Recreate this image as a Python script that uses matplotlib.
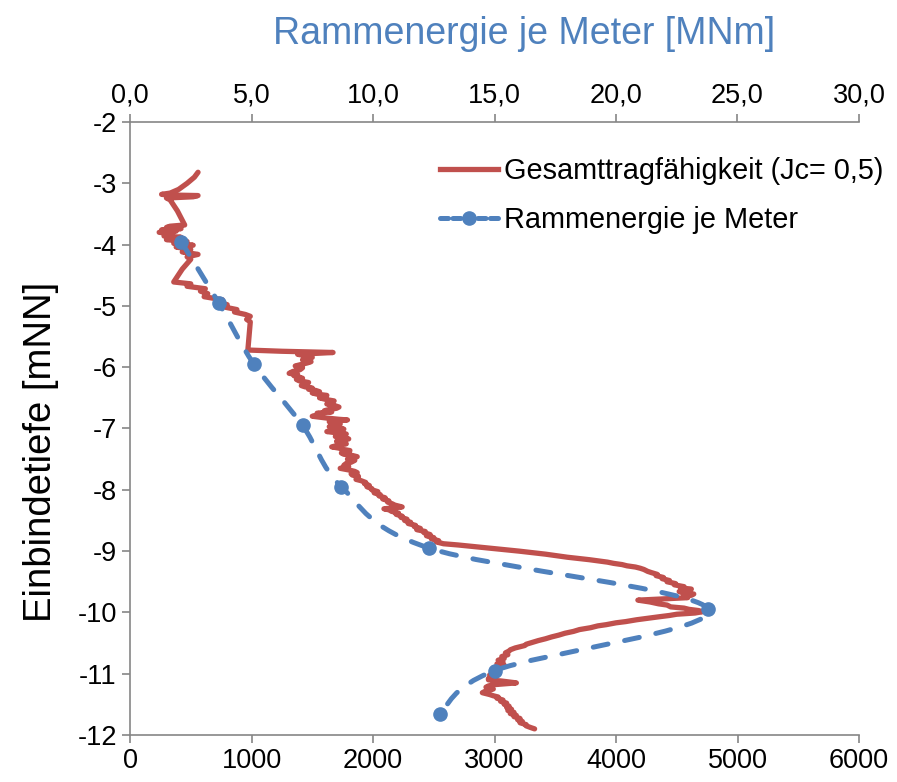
import numpy as np
import matplotlib
matplotlib.use('Agg')
import matplotlib.pyplot as plt
from matplotlib.path import Path
from matplotlib.patches import PathPatch
from matplotlib.lines import Line2D
from matplotlib.ticker import FuncFormatter, MultipleLocator

plt.rcParams['font.family'] = ['Liberation Sans', 'DejaVu Sans']
plt.rcParams['axes.unicode_minus'] = False

RED = '#C0504D'
BLUE = '#4F81BD'
GREY = '#868686'

# Gesamttragfaehigkeit (bottom axis, kN) over depth (mNN)
cap_depth = [
    -2.82, -2.90, -3.00, -3.10, -3.16, -3.18, -3.19, -3.20, -3.22, -3.24, -3.27,
    -3.45, -3.68, -3.70, -3.72, -3.74, -3.76, -3.78, -3.80, -3.82, -3.84, -3.86,
    -3.88, -3.90, -3.92, -3.95, -3.98, -4.01, -4.04, -4.08, -4.12, -4.16, -4.20,
    -4.24, -4.40, -4.61, -4.64, -4.68, -4.72, -4.76, -4.80, -4.85, -4.90, -4.94,
    -4.98, -5.02, -5.06, -5.10, -5.14, -5.17, -5.22, -5.26, -5.72, -5.74, -5.76,
    -5.79, -5.82, -5.84, -5.88, -5.91, -5.93, -5.96, -5.98, -6.01, -6.04, -6.07,
    -6.10, -6.12, -6.14, -6.18, -6.20, -6.22, -6.25, -6.27, -6.30, -6.32, -6.34,
    -6.36, -6.38, -6.40, -6.42, -6.44, -6.46, -6.48, -6.50, -6.53, -6.55, -6.58,
    -6.60, -6.63, -6.65, -6.67, -6.69, -6.71, -6.73, -6.75, -6.78, -6.80, -6.82,
    -6.83, -6.85, -6.86, -6.88, -6.89, -6.91, -6.93, -6.95, -6.97, -6.99, -7.01,
    -7.03, -7.05, -7.07, -7.09, -7.11, -7.13, -7.15, -7.17, -7.19, -7.21, -7.23,
    -7.25, -7.27, -7.30, -7.32, -7.34, -7.36, -7.38, -7.40, -7.42, -7.44, -7.46,
    -7.48, -7.50, -7.52, -7.55, -7.57, -7.60, -7.62, -7.65, -7.68, -7.70, -7.72,
    -7.74, -7.76, -7.78, -7.80, -7.83, -7.85, -7.88, -7.90, -7.93, -7.95, -7.98,
    -8.00, -8.03, -8.05, -8.08, -8.10, -8.13, -8.15, -8.18, -8.20, -8.23, -8.25,
    -8.28, -8.31, -8.33, -8.35, -8.38, -8.40, -8.43, -8.45, -8.48, -8.50, -8.53,
    -8.55, -8.58, -8.60, -8.63, -8.65, -8.68, -8.70, -8.73, -8.75, -8.78, -8.80,
    -8.83, -8.85, -8.88, -8.90, -8.92, -8.96, -9.00, -9.05, -9.10, -9.14, -9.18,
    -9.20, -9.22, -9.24, -9.26, -9.28, -9.30, -9.33, -9.35, -9.38, -9.40, -9.43,
    -9.45, -9.48, -9.50, -9.53, -9.55, -9.58, -9.60, -9.62, -9.64, -9.66, -9.68,
    -9.70, -9.72, -9.74, -9.76, -9.80, -9.83, -9.86, -9.88, -9.91, -9.93, -9.95,
    -9.97, -9.99, -10.01, -10.03, -10.05, -10.07, -10.10, -10.12, -10.15, -10.17, -10.20,
    -10.22, -10.25, -10.28, -10.31, -10.34, -10.37, -10.40, -10.43, -10.46, -10.49, -10.52,
    -10.54, -10.56, -10.58, -10.61, -10.63, -10.66, -10.69, -10.72, -10.75, -10.78, -10.81,
    -10.84, -10.86, -10.88, -10.90, -10.92, -10.95, -10.97, -11.00, -11.02, -11.04, -11.06,
    -11.08, -11.10, -11.12, -11.15, -11.17, -11.18, -11.20, -11.22, -11.25, -11.27, -11.29,
    -11.31, -11.34, -11.36, -11.38, -11.40, -11.43, -11.45, -11.48, -11.50, -11.53, -11.55,
    -11.58, -11.60, -11.63, -11.65, -11.68, -11.70, -11.73, -11.75, -11.78, -11.80, -11.83,
    -11.85, -11.88, -11.90]
cap_kn = [
    560, 530, 470, 400, 330, 260, 300, 560, 520, 300, 330,
    390, 450, 330, 300, 420, 260, 380, 240, 350, 300, 280,
    420, 330, 300, 470, 360, 520, 380, 500, 430, 560, 470,
    500, 430, 360, 500, 470, 620, 580, 640, 610, 760, 720,
    800, 780, 880, 860, 950, 990, 960, 990, 970, 1250, 1671,
    1380, 1470, 1500, 1420, 1490, 1460, 1400, 1360, 1420, 1400, 1340,
    1310, 1380, 1350, 1420, 1370, 1390, 1470, 1460, 1410, 1440, 1500,
    1470, 1530, 1560, 1500, 1540, 1620, 1600, 1560, 1620, 1680, 1660,
    1620, 1690, 1720, 1700, 1640, 1600, 1660, 1540, 1580, 1500, 1580,
    1620, 1720, 1790, 1700, 1640, 1720, 1730, 1660, 1640, 1720, 1760,
    1680, 1620, 1700, 1780, 1720, 1690, 1760, 1800, 1740, 1700, 1750,
    1780, 1720, 1660, 1720, 1750, 1810, 1800, 1740, 1760, 1830, 1870,
    1820, 1790, 1850, 1820, 1780, 1760, 1800, 1730, 1810, 1850, 1870,
    1820, 1830, 1880, 1880, 1860, 1900, 1940, 1930, 1970, 1950, 1990,
    1990, 2040, 2010, 2060, 2050, 2100, 2080, 2130, 2120, 2160, 2180,
    2240, 2090, 2140, 2150, 2210, 2190, 2240, 2230, 2280, 2260, 2310,
    2290, 2350, 2340, 2390, 2360, 2430, 2420, 2470, 2440, 2500, 2480,
    2540, 2520, 2580, 2700, 2800, 3000, 3200, 3420, 3600, 3780, 3930,
    3980, 4050, 4090, 4160, 4200, 4230, 4260, 4290, 4340, 4330, 4390,
    4380, 4440, 4420, 4490, 4480, 4560, 4530, 4620, 4600, 4520, 4550,
    4640, 4620, 4560, 4590, 4180, 4280, 4350, 4420, 4450, 4560, 4600,
    4680, 4710, 4650, 4500, 4440, 4360, 4250, 4170, 4080, 4000, 3920,
    3850, 3790, 3700, 3650, 3580, 3530, 3470, 3420, 3360, 3310, 3260,
    3250, 3210, 3170, 3130, 3120, 3090, 3110, 3060, 3080, 3030, 3070,
    3020, 3080, 3060, 3010, 2990, 3040, 3000, 3030, 2960, 3010, 2980,
    2950, 2950, 3060, 3180, 3050, 2990, 2950, 2930, 2990, 2950, 2920,
    2900, 2960, 2990, 3030, 3020, 3070, 3050, 3100, 3080, 3120, 3100,
    3140, 3110, 3160, 3130, 3180, 3160, 3210, 3190, 3230, 3210, 3260,
    3260, 3300, 3330]

# Rammenergie je Meter (top axis, MNm)
energy_depth = [-3.95, -4.95, -5.95, -6.95, -7.95, -8.95, -9.95, -10.95, -11.65]
energy_mnm = [2.1, 3.65, 5.1, 7.1, 8.7, 12.3, 23.8, 15.0, 12.75]

fig = plt.figure(figsize=(8.97, 7.82), dpi=100)
ax = fig.add_axes([130 / 897, 1 - 735 / 782, 729 / 897, 613 / 782])
ax2 = ax.twiny()

ax.plot(cap_kn, cap_depth, color=RED, lw=3.8, solid_joinstyle='round',
        solid_capstyle='round')

ax.set_xlim(0, 6000)
ax.set_ylim(-12, -2)
ax.xaxis.set_major_locator(MultipleLocator(1000))
ax.yaxis.set_major_locator(MultipleLocator(1))
ax.set_ylabel('Einbindetiefe [mNN]', fontsize=27.5)
ax.yaxis.set_label_coords(-0.098, 0.462)

ax2.set_xlim(0, 30)
ax2.xaxis.set_major_locator(MultipleLocator(5))
ax2.xaxis.set_major_formatter(FuncFormatter(lambda v, p: f'{v:.1f}'.replace('.', ',')))
ax2.set_xlabel('Rammenergie je Meter [MNm]', fontsize=27, color=BLUE)
ax2.xaxis.set_label_coords(0.540, 1.128)

# smoothed line like the spreadsheet: bezier through the points, built in pixel-ish space
sx, sy = 729 / 30, 613 / 10
px = np.array(energy_mnm) * sx
py = np.array(energy_depth) * sy
verts = [(px[0], py[0])]
codes = [Path.MOVETO]
n = len(px)
for i in range(n - 1):
    p0 = (px[max(i - 1, 0)], py[max(i - 1, 0)])
    p1 = (px[i], py[i])
    p2 = (px[i + 1], py[i + 1])
    p3 = (px[min(i + 2, n - 1)], py[min(i + 2, n - 1)])
    c1 = (p1[0] + (p2[0] - p0[0]) / 6, p1[1] + (p2[1] - p0[1]) / 6)
    c2 = (p2[0] - (p3[0] - p1[0]) / 6, p2[1] - (p3[1] - p1[1]) / 6)
    verts += [c1, c2, p2]
    codes += [Path.CURVE4] * 3
verts = [(vx / sx, vy / sy) for vx, vy in verts]
curve = PathPatch(Path(verts, codes), fill=False, edgecolor=BLUE, lw=3.6,
                  linestyle=(0, (3.0, 3.4)), capstyle='round', zorder=3)
ax2.add_patch(curve)
ax2.plot(energy_mnm, energy_depth, linestyle='none', marker='o', ms=9.5,
         color=BLUE, zorder=4)

for a in (ax, ax2):
    for side in ('left', 'bottom', 'top'):
        a.spines[side].set_color(GREY)
        a.spines[side].set_linewidth(1.2)
    a.spines['right'].set_visible(False)
    a.tick_params(direction='out', length=6, width=1.2, color=GREY,
                  labelsize=19.5, labelcolor='black')
ax2.spines['left'].set_visible(False)
ax2.spines['bottom'].set_visible(False)
ax.spines['top'].set_visible(False)

handles = [
    Line2D([], [], color=RED, lw=3.8),
    Line2D([], [], color=BLUE, lw=3.6, dashes=(1.6, 0.9), marker='o', ms=9.5,
           dash_capstyle='round'),
]
labels = ['Gesamttragfähigkeit (Jc= 0,5)', 'Rammenergie je Meter']
ax2.legend(handles, labels, loc='upper left', bbox_to_anchor=(0.41, 0.962),
           frameon=False, fontsize=20.8, handlelength=2.0, handletextpad=0.2,
           labelspacing=0.72, borderaxespad=0)

fig.savefig('out.png', dpi=100)
